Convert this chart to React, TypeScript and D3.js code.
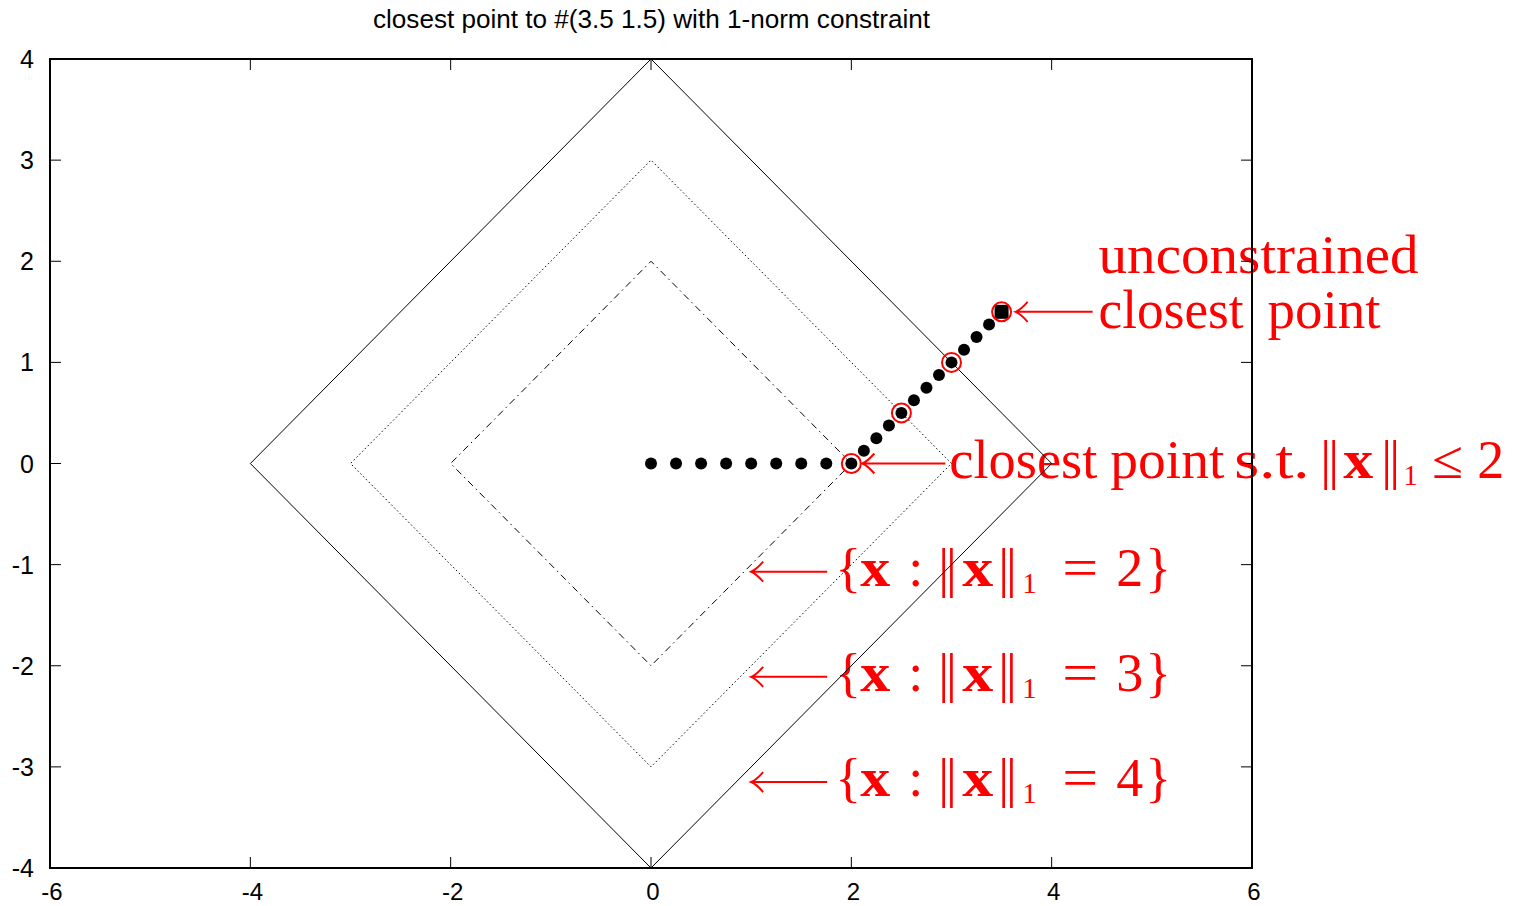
import React from "react";
import * as d3 from "d3";

const W = 1522;
const H = 906;

const titleText = "closest point to #(3.5 1.5) with 1-norm constraint";
const xTicks = [-6, -4, -2, 0, 2, 4, 6];
const yTicks = [-4, -3, -2, -1, 0, 1, 2, 3, 4];

// level sets |x|+|y| = r
const diamondLevels = [4, 3, 2];
const diamondX = [1, 0, -1, 0, 1];
const diamondY = [0, 1, 0, -1, 0];

// projected-gradient path points
const pathX = [0, 0.25, 0.5, 0.75, 1, 1.25, 1.5, 1.75, 2, 2.125, 2.25, 2.375, 2.5, 2.625, 2.75, 2.875, 3, 3.125, 3.25, 3.375];
const pathY = [0, 0, 0, 0, 0, 0, 0, 0, 0, 0.125, 0.25, 0.375, 0.5, 0.625, 0.75, 0.875, 1, 1.125, 1.25, 1.375];
const finalX = 3.5;
const finalY = 1.5;
const circledX = [2, 2.5, 3, 3.5];
const circledY = [0, 0.5, 1, 1.5];

// annotation arrow tips (data coords)
const unconstrainedTip = [3.64, 1.5];
const constrainedTip = [2.11, 0];
const setTipX = 1.0;
const setTipY = [-1.07, -2.11, -3.15];
const setValues = ["2", "3", "4"];

const RED = "#ff0000";
const SERIF = "'Liberation Serif', 'DejaVu Serif', serif";
const SANS = "'Liberation Sans', Arial, sans-serif";

function Arrow({ x, y, len }: { x: number; y: number; len: number }) {
  return (
    <path
      d={`M${x},${y}L${x + len},${y}M${x + 12},${y - 10}Q${x + 5},${y - 2} ${x},${y}Q${x + 5},${y + 2} ${x + 12},${y + 10}`}
      fill="none"
      stroke={RED}
      strokeWidth={2}
    />
  );
}

function Norm({ x, y }: { x: number; y: number }) {
  return (
    <text x={x} y={y} fontSize={54} letterSpacing={-3}>
      ||
    </text>
  );
}

export default function App() {
  const x = d3.scaleLinear().domain([-6, 6]).range([50, 1252]);
  const y = d3.scaleLinear().domain([-4, 4]).range([868, 59]);

  const diamondPath = (r: number) =>
    d3
      .line<number>()
      .x((_, i) => x(r * diamondX[i]))
      .y((_, i) => y(r * diamondY[i]))(diamondX) as string;

  const dashFor: Record<number, string | undefined> = { 4: undefined, 3: "1.5,2.5", 2: "7,4,1.5,4" };

  const ux = x(unconstrainedTip[0]);
  const uy = y(unconstrainedTip[1]);
  const cx = x(constrainedTip[0]);
  const cy = y(constrainedTip[1]);
  const sx = x(setTipX);

  const fs = 54;
  const cb = cy + 14;

  return (
    <svg width={W} height={H} style={{ position: "absolute", left: 0, top: 0, background: "#fff" }}>
      <rect x={0} y={0} width={W} height={H} fill="#fff" />
      <text x={373} y={28} fontFamily={SANS} fontSize={25} fill="#000" textLength={557} lengthAdjust="spacingAndGlyphs">
        {titleText}
      </text>

      {/* red annotations */}
      <g fill={RED} fontFamily={SERIF}>
        <Arrow x={ux} y={uy} len={77} />
        <text x={ux + 83} y={uy - 39} fontSize={fs} textLength={320} lengthAdjust="spacingAndGlyphs">unconstrained</text>
        <text x={ux + 83} y={uy + 16} fontSize={fs} textLength={145} lengthAdjust="spacingAndGlyphs">closest</text>
        <text x={ux + 252} y={uy + 16} fontSize={fs} textLength={113} lengthAdjust="spacingAndGlyphs">point</text>

        <Arrow x={cx} y={cy} len={83} />
        <text x={cx + 87} y={cb} fontSize={fs} textLength={148} lengthAdjust="spacingAndGlyphs">closest</text>
        <text x={cx + 248} y={cb} fontSize={fs} textLength={114} lengthAdjust="spacingAndGlyphs">point</text>
        <text x={cx + 372} y={cb} fontSize={fs} textLength={75} lengthAdjust="spacingAndGlyphs">s.t.</text>
        <Norm x={cx + 458} y={cb} />
        <text x={cx + 481} y={cb} fontSize={fs} fontWeight="bold" textLength={30} lengthAdjust="spacingAndGlyphs">x</text>
        <Norm x={cx + 519} y={cb} />
        <text x={cx + 541} y={cb + 7} fontSize={29}>1</text>
        <text x={cx + 570} y={cb} fontSize={fs} textLength={31} lengthAdjust="spacingAndGlyphs">≤</text>
        <text x={cx + 615} y={cb} fontSize={fs}>2</text>

        {setTipY.map((ty, i) => {
          const yy = y(ty);
          const b = yy + 14;
          return (
            <g key={i}>
              <Arrow x={sx} y={yy} len={76} />
              <text x={sx + 84} y={b} fontSize={fs}>{"{"}</text>
              <text x={sx + 109} y={b} fontSize={fs} fontWeight="bold" textLength={30} lengthAdjust="spacingAndGlyphs">x</text>
              <text x={sx + 157} y={b} fontSize={fs}>:</text>
              <Norm x={sx + 187} y={b} />
              <text x={sx + 211} y={b} fontSize={fs} fontWeight="bold" textLength={31} lengthAdjust="spacingAndGlyphs">x</text>
              <Norm x={sx + 247} y={b} />
              <text x={sx + 271} y={b + 7} fontSize={29}>1</text>
              <text x={sx + 311} y={b} fontSize={fs} textLength={36} lengthAdjust="spacingAndGlyphs">=</text>
              <text x={sx + 365} y={b} fontSize={fs}>{setValues[i]}</text>
              <text x={sx + 394} y={b} fontSize={fs}>{"}"}</text>
            </g>
          );
        })}
      </g>

      {/* level-set diamonds */}
      {diamondLevels.map((r) => (
        <path key={r} d={diamondPath(r)} fill="none" stroke="#000" strokeWidth={1} strokeDasharray={dashFor[r]} />
      ))}

      {/* path points */}
      {pathX.map((px, i) => (
        <circle key={i} cx={x(px)} cy={y(pathY[i])} r={6} fill="#000" />
      ))}
      <rect x={x(finalX) - 7} y={y(finalY) - 7} width={14} height={14} fill="#000" />
      {circledX.map((px, i) => (
        <circle key={i} cx={x(px)} cy={y(circledY[i])} r={9.5} fill="none" stroke={RED} strokeWidth={2} />
      ))}

      {/* axes frame and ticks */}
      <g stroke="#000" strokeWidth={1}>
        {xTicks.slice(1, -1).map((t) => (
          <g key={t}>
            <line x1={x(t)} x2={x(t)} y1={868} y2={857} />
            <line x1={x(t)} x2={x(t)} y1={59} y2={70} />
          </g>
        ))}
        {yTicks.slice(1, -1).map((t) => (
          <g key={t}>
            <line x1={50} x2={61} y1={y(t)} y2={y(t)} />
            <line x1={1252} x2={1241} y1={y(t)} y2={y(t)} />
          </g>
        ))}
      </g>
      <rect x={50} y={59} width={1202} height={809} fill="none" stroke="#000" strokeWidth={2} />

      <g fontFamily={SANS} fontSize={24} fill="#000">
        {xTicks.map((t) => (
          <text key={t} x={x(t) + 2} y={900} textAnchor="middle">{t}</text>
        ))}
      </g>
      <g fontFamily={SANS} fontSize={25} fill="#000">
        {yTicks.map((t) => (
          <text key={t} x={34} y={y(t) + 9} textAnchor="end">{t}</text>
        ))}
      </g>
    </svg>
  );
}
